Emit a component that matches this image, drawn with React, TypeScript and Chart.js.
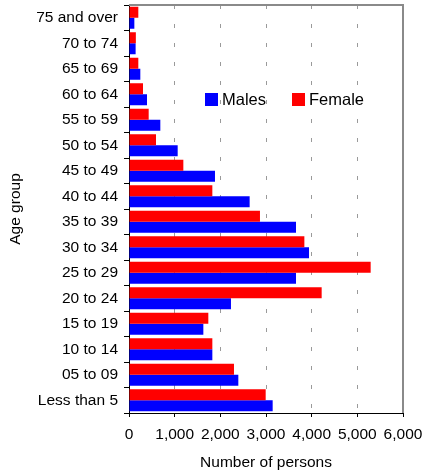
import React, { useEffect, useRef } from 'react';
import { Chart, registerables } from 'chart.js';

Chart.register(...registerables);

const ageGroups = [
  '75 and over', '70 to 74', '65 to 69', '60 to 64', '55 to 59', '50 to 54',
  '45 to 49', '40 to 44', '35 to 39', '30 to 34', '25 to 29', '20 to 24',
  '15 to 19', '10 to 14', '05 to 09', 'Less than 5',
];
const femaleValues = [204, 150, 204, 307, 431, 591, 1190, 1825, 2868, 3840, 5292, 4219, 1737, 1825, 2299, 2993];
const maleValues = [117, 145, 248, 394, 686, 1066, 1883, 2642, 3657, 3942, 3657, 2233, 1628, 1825, 2394, 3146];
const xTickValues = [0, 1000, 2000, 3000, 4000, 5000, 6000];
const xTickLabels = ['0', '1,000', '2,000', '3,000', '4,000', '5,000', '6,000'];

const FONT = 'Liberation Sans, Arial, sans-serif';

const framePlugin = {
  id: 'frameAndLegend',
  afterDraw(chart: any) {
    const { ctx, chartArea } = chart;
    ctx.save();
    ctx.strokeStyle = '#8a8a8a';
    ctx.lineWidth = 2;
    ctx.beginPath();
    ctx.moveTo(chartArea.left, chartArea.top);
    ctx.lineTo(chartArea.right, chartArea.top);
    ctx.lineTo(chartArea.right, chartArea.bottom);
    ctx.stroke();

    // legend (Males first, then Female)
    const items = [chart.data.datasets[1], chart.data.datasets[0]];
    const xs = [chartArea.left + 76, chartArea.left + 163];
    const yc = chartArea.top + 94.5;
    ctx.font = `16.5px ${FONT}`;
    ctx.textBaseline = 'middle';
    ctx.textAlign = 'left';
    items.forEach((ds: any, i: number) => {
      ctx.fillStyle = ds.backgroundColor;
      ctx.fillRect(xs[i], yc - 6.5, 13, 13);
      ctx.fillStyle = '#000';
      ctx.fillText(ds.label, xs[i] + 17, yc + 0.5);
    });
    ctx.restore();
  },
};

export default function App() {
  const canvasRef = useRef<HTMLCanvasElement | null>(null);

  useEffect(() => {
    document.body.style.margin = '0';
    const canvas = canvasRef.current;
    if (!canvas) return;
    const chart = new Chart(canvas, {
      type: 'bar',
      data: {
        labels: ageGroups,
        datasets: [
          { label: 'Female', data: femaleValues, backgroundColor: '#ff0000', borderWidth: 0 },
          { label: 'Males', data: maleValues, backgroundColor: '#0000ff', borderWidth: 0 },
        ],
      },
      options: {
        indexAxis: 'y',
        animation: false,
        responsive: false,
        maintainAspectRatio: false,
        datasets: { bar: { categoryPercentage: 0.863, barPercentage: 1 } },
        layout: { padding: { top: 5, right: 20, left: 0, bottom: 0 } },
        plugins: { legend: { display: false }, tooltip: { enabled: false } },
        scales: {
          x: {
            type: 'linear',
            min: 0,
            max: 6000,
            afterBuildTicks: (scale: any) => {
              scale.ticks = xTickValues.map((v) => ({ value: v }));
            },
            afterFit: (scale: any) => {
              scale.height = 63;
              scale.paddingLeft = 0;
              scale.paddingRight = 0;
            },
            ticks: {
              color: '#000',
              font: { family: FONT, size: 15.5 },
              padding: 8,
              maxRotation: 0,
              autoSkip: false,
              callback: (v: any) => xTickLabels[xTickValues.indexOf(Number(v))] ?? String(v),
            },
            grid: {
              color: (c: any) => (c.tick && (c.tick.value === 0 || c.tick.value === 6000) ? 'rgba(0,0,0,0)' : '#9a9a9a'),
              lineWidth: 1,
              drawTicks: true,
              tickLength: 4,
              tickColor: '#000',
            },
            border: { color: '#000', width: 1, dash: [4, 15] },
            title: {
              display: true,
              text: 'Number of persons',
              color: '#000',
              font: { family: FONT, size: 15.5 },
              padding: { top: 0, bottom: 4 },
            },
          },
          y: {
            type: 'category',
            afterFit: (scale: any) => {
              scale.width = 129;
              scale.paddingTop = 0;
              scale.paddingBottom = 0;
            },
            ticks: {
              color: '#000',
              font: { family: FONT, size: 15.5 },
              padding: 6,
              autoSkip: false,
            },
            grid: {
              offset: true,
              drawOnChartArea: false,
              drawTicks: true,
              tickLength: 5,
              tickColor: '#000',
            },
            border: { color: '#000', width: 1 },
            title: {
              display: true,
              text: 'Age group',
              color: '#000',
              font: { family: FONT, size: 15.5 },
              padding: { top: 6, bottom: 0 },
            },
          },
        },
      },
      plugins: [framePlugin],
    } as any);
    return () => chart.destroy();
  }, []);

  return (
    <div style={{ width: 423, height: 476 }}>
      <canvas ref={canvasRef} width={423} height={476} />
    </div>
  );
}
